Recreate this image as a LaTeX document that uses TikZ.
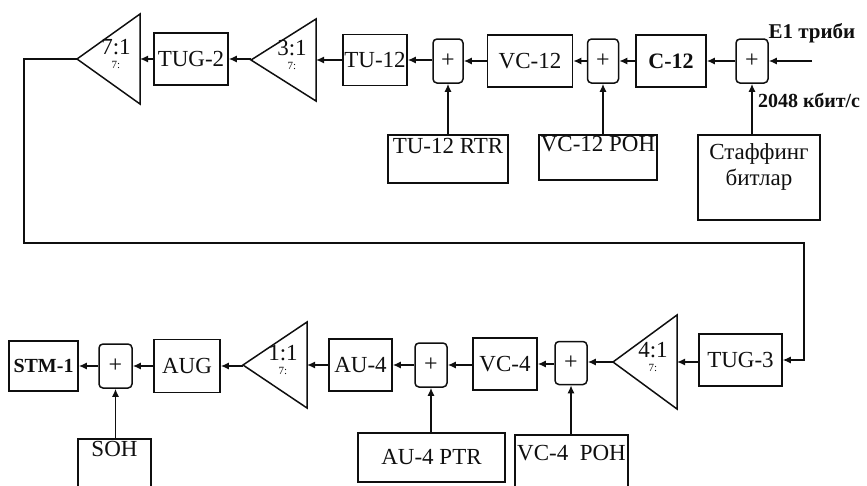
\documentclass[tikz,border=0pt]{standalone}
\usepackage{fontspec}
\setmainfont{Liberation Serif}
\usepackage{tikz}
\usetikzlibrary{positioning,arrows.meta,calc}
\definecolor{sdhInk}{RGB}{15,15,15}

% multiplexer triangle: name, apex x, right x, mid y, half height, ratio
\newcommand{\muxtri}[6]{%
  \draw[sdhInk, line width=1.5pt] (#2,#4) -- (#3,#4-#5) -- (#3,#4+#5) -- cycle;
  \coordinate (#1-out) at (#2,#4);
  \coordinate (#1-in) at (#3,#4);
  \node[font=\fontsize{23}{23}\selectfont, inner sep=0pt] (#1-txt) at (#3-24,#4-12) {#6};
  \node[font=\fontsize{11}{11}\selectfont, inner sep=0pt] (#1-sub) at (#3-24,#4+6) {7:};
}

\begin{document}
\begin{tikzpicture}[x=1pt, y=-1pt, sdhInk,
    blk/.style={draw, line width=1.5pt, inner sep=1pt, font=\fontsize{23}{25}\selectfont},
    sumbox/.style={draw, line width=1.5pt, rounded corners=4pt, minimum width=31pt, minimum height=44pt, inner sep=0pt, font=\fontsize{24}{24}\selectfont},
    toplbl/.style={anchor=north, inner sep=0pt, font=\fontsize{23}{26}\selectfont, align=center},
    arr/.style={line width=1.5pt, -{Latex[length=8pt, width=7pt]}}]
  \useasboundingbox (0,0) rectangle (867,485);
  \clip (0,0) rectangle (867,485);

  % Upper row: E1 -> C-12 -> VC-12 -> TU-12 -> TUG-2
  \node[sumbox, minimum width=32pt] (plusC) at (752,61) {+};
  \node[blk, minimum width=70pt, minimum height=52pt, font=\fontsize{22}{25}\selectfont\bfseries] (c12) at (671,61) {C-12};
  \node[sumbox] (plusB) at (603,61) {+};
  \node[blk, minimum width=85pt, minimum height=52pt] (vc12) at (530,61) {VC-12};
  \node[sumbox, minimum width=30pt] (plusA) at (448,61) {+};
  \node[blk, minimum width=64pt, minimum height=51pt] (tu12) at (375,60) {TU-12};
  \muxtri{mthree}{251}{316}{60}{41}{3:1}
  \node[blk, minimum width=74pt, minimum height=52pt] (tug2) at (191,59) {TUG-2};
  \muxtri{mseven}{77}{140}{59}{45}{7:1}

  % Overheads below the upper row
  \node[blk, minimum width=120pt, minimum height=48pt, label={[toplbl, yshift=-4pt]north:TU-12 RTR}] (rtr) at (448,159) {};
  \node[blk, minimum width=118pt, minimum height=45pt, label={[toplbl, yshift=-2pt]north:VC-12 POH}] (vcpoh) at (598,157.5) {};
  \node[blk, minimum width=122pt, minimum height=85pt, label={[toplbl, yshift=-9pt]north:Стаффинг\\битлар}] (stuff) at (759,177.5) {};

  % Input
  \coordinate (e1in) at (812,61);
  \node[font=\fontsize{21}{21}\selectfont\bfseries] (e1txt) at (812,33) {E1 триби};
  \node[anchor=west, inner sep=0pt, font=\fontsize{20}{20}\selectfont\bfseries] (rate) at (758,100) {2048 кбит/с};

  \draw[arr] (e1in) -- (plusC.east);
  \draw[arr] (plusC.west) -- (c12.east);
  \draw[arr] (c12.west) -- (plusB.east);
  \draw[arr] (plusB.west) -- (vc12.east);
  \draw[arr] (vc12.west) -- (plusA.east);
  \draw[arr] (plusA.west |- tu12.east) -- (tu12.east);
  \draw[arr] (tu12.west) -- (mthree-in);
  \draw[arr] (mthree-out |- tug2.east) -- (tug2.east);
  \draw[arr] (tug2.west) -- (mseven-in);
  \draw[arr] (rtr.north -| plusA) -- (plusA.south);
  \draw[arr] (vcpoh.north -| plusB) -- (plusB.south);
  \draw[arr] (stuff.north -| plusC) -- (plusC.south);

  % Lower row: TUG-3 -> VC-4 -> AU-4 -> AUG -> STM-1
  \node[blk, minimum width=83pt, minimum height=52pt] (tug3) at (740.5,360) {TUG-3};
  \muxtri{mfour}{613}{677}{362}{47}{4:1}
  \node[sumbox, minimum width=32pt, minimum height=43pt] (plusF) at (571,363) {+};
  \node[blk, minimum width=64pt, minimum height=52pt] (vc4) at (505,364) {VC-4};
  \node[sumbox, minimum width=32pt] (plusE) at (431,365) {+};
  \node[blk, minimum width=63pt, minimum height=52pt] (au4) at (360.5,365) {AU-4};
  \muxtri{mone}{243}{307}{365}{43}{1:1}
  \node[blk, minimum width=66pt, minimum height=53pt] (aug) at (187,366) {AUG};
  \node[sumbox, minimum width=33pt] (plusD) at (115.5,366) {+};
  \node[blk, minimum width=69pt, minimum height=50pt, font=\fontsize{20}{24}\selectfont\bfseries] (stm1) at (43.5,366) {STM-1};

  % Overheads below the lower row
  \node[blk, minimum width=73pt, minimum height=90pt, label={[toplbl, yshift=-3pt]north:SOH}] (soh) at (114.5,484) {};
  \node[blk, minimum width=147pt, minimum height=49pt] (ptr) at (431.5,457.5) {AU-4 PTR};
  \node[blk, minimum width=113pt, minimum height=90pt, label={[toplbl, yshift=-11pt]north:VC-4\ \ POH}] (vcfpoh) at (571.5,480) {};

  \draw[arr] (tug3.west |- mfour-in) -- (mfour-in);
  \draw[arr] (mfour-out) -- (plusF.east |- mfour-out);
  \draw[arr] (plusF.west |- vc4.east) -- (vc4.east);
  \draw[arr] (vc4.west |- plusE.east) -- (plusE.east);
  \draw[arr] (plusE.west) -- (au4.east);
  \draw[arr] (au4.west) -- (mone-in);
  \draw[arr] (mone-out |- aug.east) -- (aug.east);
  \draw[arr] (aug.west) -- (plusD.east);
  \draw[arr] (plusD.west) -- (stm1.east);
  \draw[arr] (soh.north -| plusD) -- (plusD.south);
  \draw[arr] (ptr.north -| plusE) -- (plusE.south);
  \draw[arr] (vcfpoh.north -| plusF) -- (plusF.south);

  % Return path from TUG-2 mux to TUG-3
  \coordinate (turnA) at (24,59);
  \coordinate (turnB) at (24,243);
  \coordinate (turnC) at (804,243);
  \draw[arr, line width=1.2pt] (mseven-out) -- (turnA) -- (turnB) -- (turnC) |- (tug3.east);
\end{tikzpicture}
\end{document}
